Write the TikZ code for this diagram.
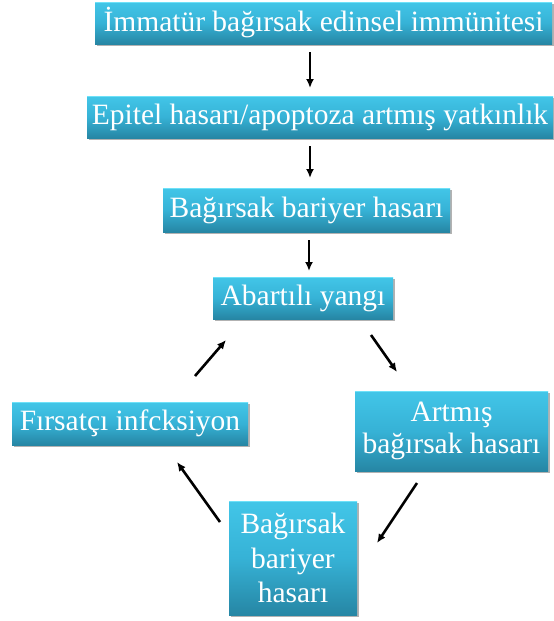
\documentclass[tikz,border=0pt]{standalone}
\usepackage{fontspec}
\setmainfont{Liberation Serif}
\usetikzlibrary{arrows.meta,shadows}
\definecolor{boxtop}{RGB}{66,198,232}
\definecolor{boxmid}{RGB}{54,178,214}
\definecolor{boxbot}{RGB}{38,134,164}
\definecolor{boxhl}{RGB}{110,225,248}
\begin{document}
\begin{tikzpicture}[x=1pt,y=-1pt,
  box/.style={rectangle, draw=none, top color=boxtop, bottom color=boxbot, middle color=boxmid,
    text=white, inner sep=0pt, align=center,
    font=\fontsize{29.5}{32}\selectfont,
    path picture={\draw[boxhl, line width=2pt] (path picture bounding box.north west) -- (path picture bounding box.north east);},
    drop shadow={shadow xshift=1.5pt, shadow yshift=-2pt, fill=black!60, opacity=.5}},
  arr/.style={line width=2.6pt, -{Latex[length=9pt,width=8pt]}}]
\useasboundingbox (0,0) rectangle (554,621);
\node[box, minimum width=457pt, minimum height=42pt] (b1) at (323.5,23) {İmmatür bağırsak edinsel immünitesi};
\node[box, minimum width=466pt, minimum height=42pt] (b2) at (320,117) {Epitel hasarı/apoptoza artmış yatkınlık};
\node[box, minimum width=287pt, minimum height=44pt] (b3) at (306.5,210) {Bağırsak bariyer hasarı};
\node[box, minimum width=180pt, minimum height=42pt] (b4) at (303,298) {Abartılı yangı};
\node[box, minimum width=236pt, minimum height=43pt] (b5) at (130,423.5) {Fırsatçı infcksiyon};
\node[box, minimum width=193pt, minimum height=80pt] (b6) at (451.5,431) {Artmış\\bağırsak hasarı};
\node[box, minimum width=128pt, minimum height=114pt, font=\fontsize{29.5}{34.5}\selectfont] (b7) at (293,558) {Bağırsak\\bariyer\\hasarı};
\coordinate (a1s) at (310,52);  \coordinate (a1e) at (310,88);
\coordinate (a2s) at (310,146); \coordinate (a2e) at (310,178);
\coordinate (a3s) at (309,240); \coordinate (a3e) at (309,271);
\coordinate (a4s) at (195,376); \coordinate (a4e) at (226,340);
\coordinate (a5s) at (371,335); \coordinate (a5e) at (397,372);
\coordinate (a6s) at (417,483); \coordinate (a6e) at (377,543);
\coordinate (a7s) at (220,522); \coordinate (a7e) at (177,462);
\draw[arr] (a1s) -- (a1e);
\draw[arr] (a2s) -- (a2e);
\draw[arr] (a3s) -- (a3e);
\draw[arr] (a4s) -- (a4e);
\draw[arr] (a5s) -- (a5e);
\draw[arr] (a6s) -- (a6e);
\draw[arr] (a7s) -- (a7e);
\end{tikzpicture}
\end{document}
